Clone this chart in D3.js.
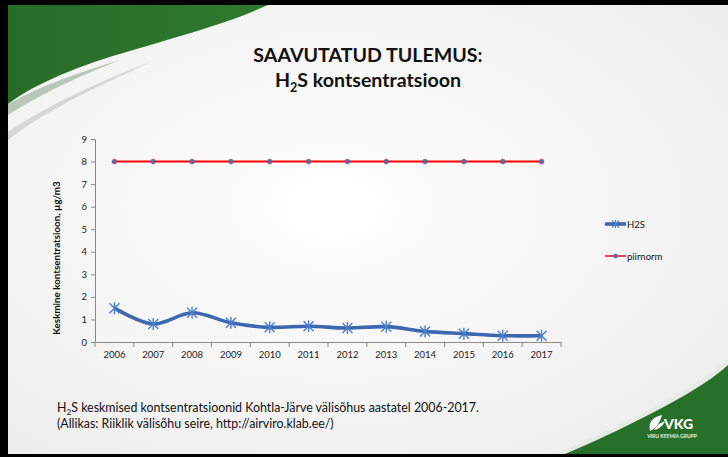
<!DOCTYPE html>
<html><head><meta charset="utf-8">
<script src="https://cdn.jsdelivr.net/npm/d3@7"></script>
<style>body{margin:0;background:#fff}svg{display:block}text{font-family:Lato,"Open Sans",sans-serif}</style>
</head><body>
<script>
const years = ["2006","2007","2008","2009","2010","2011","2012","2013","2014","2015","2016","2017"];
const h2s = [1.5,0.8,1.3,0.85,0.65,0.7,0.62,0.68,0.47,0.37,0.28,0.28];
const piirnorm = [8,8,8,8,8,8,8,8,8,8,8,8];
const yTicks = [0,1,2,3,4,5,6,7,8,9];

const W=728,H=457;
const svg=d3.select("body").append("svg").attr("width",W).attr("height",H);
const defs=svg.append("defs");
const rg=defs.append("radialGradient").attr("id","bg").attr("cx","45%").attr("cy","45%").attr("r","75%");
rg.append("stop").attr("offset","0%").attr("stop-color","#ffffff");
rg.append("stop").attr("offset","100%").attr("stop-color","#ececec");
const lg=defs.append("linearGradient").attr("id","gtop").attr("x1","0").attr("x2","1").attr("y1","0").attr("y2","0");
lg.append("stop").attr("offset","0%").attr("stop-color","#276b27");
lg.append("stop").attr("offset","100%").attr("stop-color","#2f7a2f");

// slide background
svg.append("rect").attr("width",W).attr("height",H).attr("fill","#000");
svg.append("rect").attr("x",8).attr("y",5).attr("width",W-8).attr("height",449).attr("fill","url(#bg)");

// top-left swooshes
svg.append("path").attr("d","M8,132 C40,110 90,85 150,62 C120,78 60,100 8,140 Z").attr("fill","#d6d8d6");
svg.append("path").attr("d","M8,5 L268,5 C230,22 200,30 140,48 C90,62 40,80 8,104 Z").attr("fill","url(#gtop)");
svg.append("path").attr("d","M8,104 C40,86 80,72 120,60 C70,80 40,95 8,115 Z").attr("fill","#b9c7b9");
// bottom-right swoosh
svg.append("path").attr("d","M728,359 C705,382 640,418 555,454 L728,454 Z").attr("fill","#e4eae4");
svg.append("path").attr("d","M728,365 C705,387 640,422 565,454 L728,454 Z").attr("fill","#27702a");

// title
svg.append("text").attr("x",368).attr("y",62).attr("text-anchor","middle").attr("font-weight","bold").attr("fill","#111").attr("font-size",19.6).text("SAAVUTATUD TULEMUS:");
const t2=svg.append("text").attr("x",368).attr("y",87).attr("text-anchor","middle").attr("font-weight","bold").attr("fill","#111").attr("font-size",19.6);
t2.append("tspan").text("H");
t2.append("tspan").attr("font-size",12.5).attr("dy",5).text("2");
t2.append("tspan").attr("dy",-5).text("S kontsentratsioon");

// chart
const x=d3.scaleBand().domain(years).range([95,561]);
const y=d3.scaleLinear().domain([0,9]).range([342,139]);
const g=svg.append("g");
const yAxis=d3.axisLeft(y).tickValues(yTicks).tickSize(4).tickPadding(4);
const ya=g.append("g").attr("transform","translate(95,0)").call(yAxis);
const xAxis=d3.axisBottom(x).tickSize(0).tickPadding(9);
const xa=g.append("g").attr("transform","translate(0,342)").call(xAxis);
[ya,xa].forEach(a=>{a.select(".domain").attr("stroke","#898989");a.selectAll("line").attr("stroke","#898989");a.selectAll("text").attr("font-family","Lato,sans-serif").attr("font-size",9.5).attr("fill","#222");});
// x ticks at band boundaries
const bounds=years.map(d=>x(d)).concat([x(years[years.length-1])+x.bandwidth()]);
xa.selectAll("line.b").data(bounds).enter().append("line").attr("class","b").attr("x1",d=>d).attr("x2",d=>d).attr("y1",0).attr("y2",5).attr("stroke","#898989");

svg.append("text").attr("transform","translate(60,258) rotate(-90)").attr("text-anchor","middle").attr("font-weight","bold").attr("font-size",9.8).attr("fill","#111").text("Keskmine kontsentratsioon, µg/m3");

const cx=d=>x(d)+x.bandwidth()/2;
// piirnorm
const line=d3.line().x((d,i)=>cx(years[i])).y(d=>y(d));
g.append("path").attr("d",line(piirnorm)).attr("fill","none").attr("stroke","#ff0000").attr("stroke-width",2);
g.selectAll("circle.p").data(piirnorm).enter().append("circle").attr("class","p").attr("cx",(d,i)=>cx(years[i])).attr("cy",d=>y(d)).attr("r",2.4).attr("fill","#4a6fb8").attr("stroke","#c03040").attr("stroke-width",0.6);
// h2s
const sline=d3.line().x((d,i)=>cx(years[i])).y(d=>y(d)).curve(d3.curveCatmullRom.alpha(0));
g.append("path").attr("d",sline(h2s)).attr("fill","none").attr("stroke","#3d67b0").attr("stroke-width",3.6);
const star=(sx,sy,r)=>`M${sx-r},${sy-r}L${sx+r},${sy+r}M${sx-r},${sy+r}L${sx+r},${sy-r}M${sx},${sy-r*1.2}L${sx},${sy+r*1.2}`;
g.selectAll("path.s").data(h2s).enter().append("path").attr("class","s").attr("d",(d,i)=>star(cx(years[i]),y(d),5)).attr("stroke","#4f7fcc").attr("stroke-width",1.4).attr("fill","none");

// legend
const lgd=svg.append("g");
lgd.append("line").attr("x1",605).attr("x2",626).attr("y1",224).attr("y2",224).attr("stroke","#3d67b0").attr("stroke-width",3.6);
lgd.append("path").attr("d",star(615.5,224,3.5)).attr("stroke","#4f7fcc").attr("stroke-width",1.2);
lgd.append("text").attr("x",627).attr("y",227.5).attr("font-size",9.5).attr("fill","#111").text("H2S");
lgd.append("line").attr("x1",605).attr("x2",626).attr("y1",256).attr("y2",256).attr("stroke","#ff0000").attr("stroke-width",1.5);
lgd.append("circle").attr("cx",615.5).attr("cy",256).attr("r",2.2).attr("fill","#4a6fb8");
lgd.append("text").attr("x",627).attr("y",259.5).attr("font-size",9.5).attr("fill","#111").text("piirnorm");

// caption
const c1=svg.append("text").attr("x",57).attr("y",411.5).attr("font-size",12.4).attr("fill","#111");
c1.append("tspan").text("H");
c1.append("tspan").attr("font-size",8.3).attr("dy",3).text("2");
c1.append("tspan").attr("dy",-3).text("S keskmised kontsentratsioonid Kohtla-Järve välisõhus aastatel 2006-2017.");
svg.append("text").attr("x",57).attr("y",428).attr("font-size",12.4).attr("fill","#111").text("(Allikas: Riiklik välisõhu seire, http://airviro.klab.ee/)");

// logo
const logo=svg.append("g");
logo.append("path").attr("d","M650,431 C648,423 652,417 662,415 C660,422 657,428 650,431 Z M654,430 C657,425 661,422 665,421 C663,426 659,429 654,430 Z").attr("fill","#fff");
logo.append("text").attr("x",664).attr("y",428.5).attr("font-size",14).attr("font-weight","900").attr("fill","#fff").text("VKG");
logo.append("text").attr("x",672).attr("y",437.5).attr("text-anchor","middle").attr("font-size",5).attr("font-weight","bold").attr("fill","#e8f0e8").text("VIRU KEEMIA GRUPP");
</script>
</body></html>
